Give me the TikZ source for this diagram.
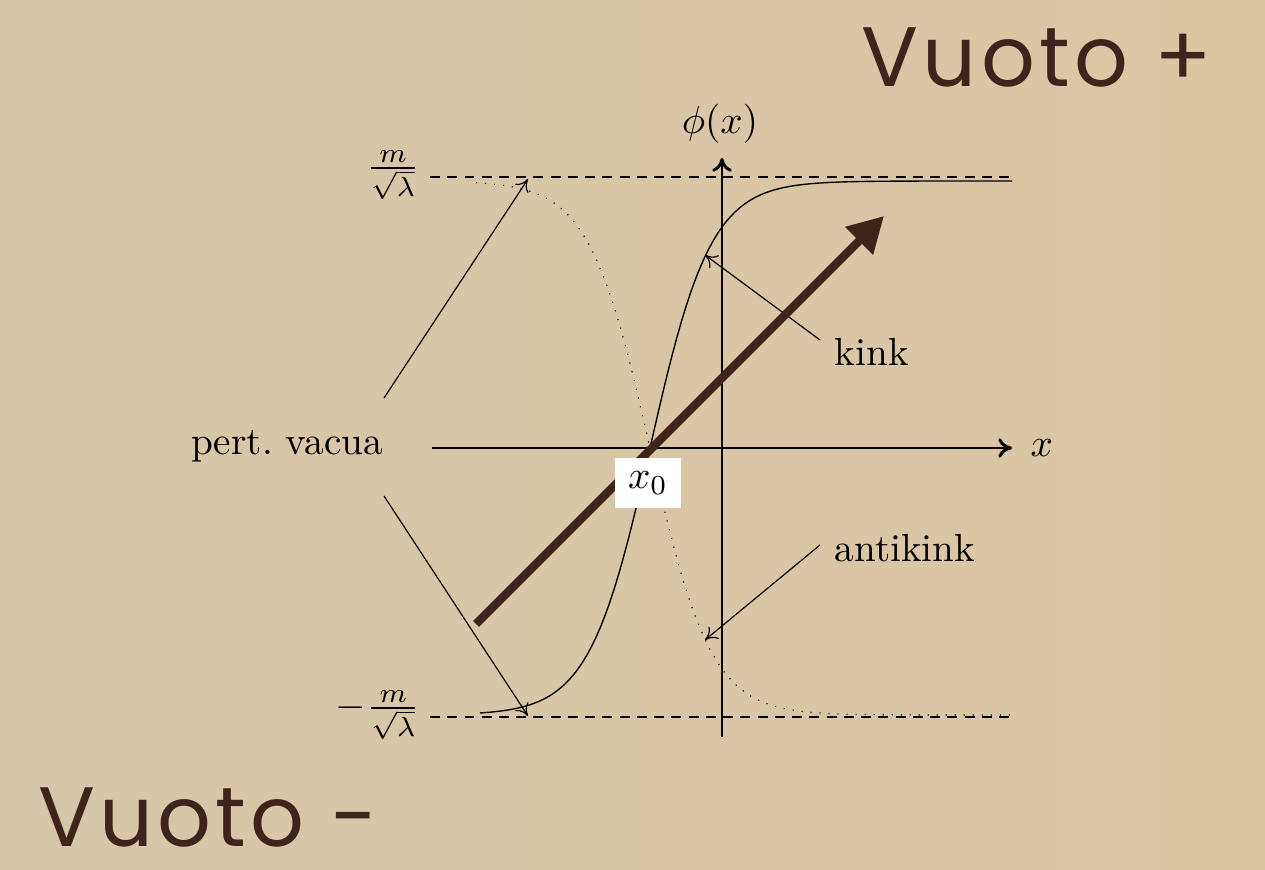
\documentclass[tikz,border=0pt]{standalone}
\usepackage{fontspec}
\newfontfamily\vuotofont[LetterSpace=5]{Poppins}
\usetikzlibrary{arrows.meta}
\definecolor{parch}{HTML}{D8C6AA}
\definecolor{parchR}{HTML}{DBC6A4}
\definecolor{brownink}{HTML}{40231B}
\tikzset{
  axisline/.style={line width=0.75pt,-{To[length=3.5pt,width=5pt]}},
  guideline/.style={line width=0.3pt,dash pattern=on 2.5pt off 1.9pt},
  pointer/.style={line width=0.3pt,-{To[length=3pt,width=4pt]}},
  lbl/.style={inner sep=1pt},
  vuototxt/.style={text=brownink,font=\vuotofont\fontsize{21.5}{26}\selectfont,inner sep=0pt}
}
\begin{document}
\begin{tikzpicture}[x=0.2551pt,y=-0.2551pt]
\shade[left color=parch,right color=parchR] (0,0) rectangle (1265,870);
\useasboundingbox (0,0) rectangle (1265,870);
% coordinates
\coordinate (xs) at (432,448);
\coordinate (xe) at (1012,448);
\coordinate (ys) at (722,737);
\coordinate (ye) at (722,158);
\coordinate (tl) at (430,177);
\coordinate (tr) at (1012,177);
\coordinate (bl) at (430,717);
\coordinate (br) at (1012,717);
\coordinate (ptop) at (528,179);
\coordinate (pbot) at (528,716);
\coordinate (kinkpt) at (705,255);
\coordinate (antipt) at (705,640);
% dashed vacuum lines
\draw[guideline] (tl) -- (tr);
\draw[guideline] (bl) -- (br);
% antikink (dotted)
\draw[line width=0.3pt,dotted] plot[domain=476:1012,samples=120] (\x,{448+267*tanh((\x-650)/61)});
% kink
\draw[line width=0.35pt] plot[domain=480:1012,samples=120] (\x,{448-267*tanh((\x-650)/61)});
% axes
\draw[axisline] (xs) -- (xe);
\draw[axisline] (ys) -- (ye);
\node[lbl,anchor=west] (xl) at (1026,448) {$x$};
\node[lbl] (phil) at (720,124) {$\phi(x)$};
% vacuum labels
\node[lbl] (mp) at (393,175) {$\frac{m}{\sqrt{\lambda}}$};
\node[lbl] (mm) at (378,715) {$-\frac{m}{\sqrt{\lambda}}$};
% pert vacua
\node[lbl] (pv) at (287,446) {pert.\ vacua};
\coordinate (pva) at (384,398);
\coordinate (pvb) at (384,496);
\draw[pointer] (pva) -- (ptop);
\draw[pointer] (pvb) -- (pbot);
% kink / antikink
\node[lbl,anchor=west] (kink) at (830,352) {kink};
\node[lbl,anchor=west] (anti) at (830,548) {antikink};
\coordinate (ka) at (820,340);
\coordinate (aa) at (820,545);
\draw[pointer] (ka) -- (kinkpt);
\draw[pointer] (aa) -- (antipt);
% big arrow
\coordinate (bs) at (476,624);
\coordinate (be) at (884,216);
\draw[brownink,line width=2.15pt,-{Triangle[length=9pt,width=9.5pt]}] (bs) -- (be);
% x0 box
\node[fill=white,minimum width=66*0.2551pt,minimum height=50*0.2551pt,inner sep=0pt] (x0) at (648,483) {$x_0$};
% Vuoto labels
\node[vuototxt] (vp) at (1037,58) {Vuoto +};
\node[vuototxt] (vm) at (208,818) {Vuoto -};
\end{tikzpicture}
\end{document}
